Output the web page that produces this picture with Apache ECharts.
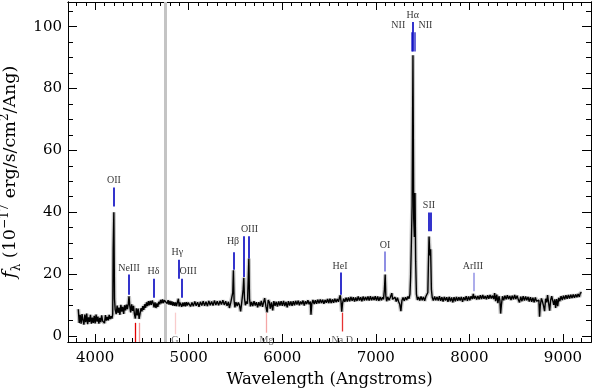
<!DOCTYPE html>
<html><head><meta charset="utf-8">
<script src="https://cdn.jsdelivr.net/npm/echarts@6/dist/echarts.min.js"></script>
<style>html,body{margin:0;padding:0;background:#fff}#c{width:594px;height:392px}</style>
</head><body><div id="c"></div>
<script>
// Spectrum segments: [wavelength (Angstrom), flux (1e-17 erg/s/cm2/Ang)]
const specBlue = [[3820,8.6],[3830,4.2],[3840,6.8],[3850,3.9],[3860,7.0],[3870,5.1],[3880,3.6],[3890,6.9],[3900,4.4],[3910,7.2],[3920,3.8],[3930,6.0],[3940,4.5],[3950,6.8],[3960,3.9],[3970,5.9],[3980,4.2],[3990,6.5],[4000,4.0],[4010,6.9],[4020,4.6],[4030,6.2],[4040,3.9],[4050,5.8],[4060,4.4],[4070,6.6],[4080,4.8],[4090,5.4],[4100,4.1],[4110,6.7],[4120,4.9],[4130,6.1],[4140,5.0],[4150,6.8],[4160,5.4],[4170,6.3],[4180,5.6],[4188,7],[4193,28],[4200,40],[4207,12],[4214,8.5],
[4225,7.0],[4235,9.8],[4245,7.4],[4255,9.1],[4265,6.8],[4275,10.0],[4285,7.8],[4295,9.4],[4305,7.1],[4315,9.9],[4325,8.2],[4335,10.1],[4345,8.6],[4355,10.4],[4362,12.8],[4370,9.8],[4380,7.6],[4390,10.2],[4400,8.1],[4410,9.7],[4420,7.0],[4430,5.6],[4440,8.9],[4450,6.6],[4460,8.8],[4470,5.5],[4480,7.2],[4490,8.9],[4500,7.9],[4510,9.6],[4520,8.4],[4530,10.2],[4540,9.1],[4550,10.8],[4560,9.6],[4570,11.2],[4580,9.9],[4590,11.3],[4600,10.0],[4610,11.4],[4620,10.6],[4630,9.2],[4640,10.8],[4650,9.0],[4660,10.5],[4670,9.4],[4680,11.0],[4690,10.2],[4700,11.6],[4710,10.5],[4720,11.8],[4730,10.6],[4740,11.5],[4750,10.9],[4760,11.9],[4770,10.4],[4780,11.5],[4790,10.1],[4800,11.3],[4810,10.0],[4820,11.1],[4830,9.8],[4840,10.9],[4850,9.7],[4860,10.8],[4870,9.6],[4880,10.9],[4890,12.0],[4898,9.5],[4906,10.8],[4915,11.4],[4925,9.4],[4935,10.7],[4945,9.6],[4955,10.8],[4965,9.5],[4975,10.9],[4985,9.8],[4995,10.7]];
const specGreen = [[5005,10.9],[5020,9.5],[5035,10.8],[5050,9.6],[5065,11.1],[5080,9.7],[5095,10.9],[5110,9.4],[5125,11.0],[5140,9.8],[5155,11.2],[5170,9.7],[5185,11.0],[5200,9.6],[5215,11.3],[5230,9.9],[5245,11.1],[5260,9.8],[5275,11.4],[5290,10.0],[5305,11.2],[5320,9.9],[5335,11.3],[5350,10.1],[5365,11.5],[5380,10.0],[5395,11.2],[5410,9.7],[5425,11.0],[5435,9.0],[5450,10.8],[5463,10.2],[5471,14],[5478,21.2],[5485,11.5],[5494,9.2],[5505,10.9],[5518,9.6],[5530,10.8],[5542,10.0],[5555,7.9],[5566,10.6],[5576,11.0],[5582,15],[5589,18.8],[5596,12.2],[5606,9.9],[5618,11.1],[5628,10.4],[5636,18],[5643,25.0],[5650,12.0],[5660,9.5],[5672,11.0],[5685,9.6],[5698,11.2],[5711,9.8],[5724,10.9],[5737,9.2],[5750,10.9],[5763,9.6],[5776,11.3],[5789,9.4],[5802,11.0],[5812,12.2],[5825,9.6],[5838,7.6],[5850,11.6],[5862,10.9],[5872,8.8],[5885,10.8],[5898,8.2],[5910,11.2],[5923,9.7],[5936,11.0],[5949,9.5],[5962,11.1],[5975,9.8],[5988,11.2],[6001,9.7],[6014,11.3],[6027,9.6],[6040,11.0],[6053,9.2],[6066,11.2],[6079,9.8],[6092,11.1],[6105,9.7],[6118,11.2],[6131,9.9],[6144,11.3],[6157,10.1],[6170,11.4],[6183,9.9],[6196,11.1],[6209,10.2],[6222,11.4],[6235,9.8],[6248,11.2],[6261,10.3],[6274,11.5],[6287,10.2],[6300,11.1],[6307,6.8],[6316,10.4],[6328,11.6],[6341,10.3],[6354,11.5],[6367,10.4],[6380,11.7],[6393,10.5],[6406,11.8],[6419,10.6],[6432,11.7],[6445,10.4],[6458,11.6],[6471,10.7],[6484,11.9],[6497,10.6],[6510,12.0],[6523,10.6],[6536,11.8],[6549,10.7],[6562,12.0],[6575,10.9],[6588,11.9],[6601,11.0],[6612,12.4],[6620,13.1],[6628,11.2],[6636,7.8],[6645,10.6],[6656,12.0],[6669,11.0],[6682,12.3],[6695,11.1],[6708,12.4],[6721,11.2],[6734,12.6],[6747,11.3],[6760,12.5],[6773,11.1],[6786,12.4],[6799,11.3],[6812,12.7],[6825,11.4],[6838,12.5],[6851,11.2],[6864,12.7],[6877,11.4],[6890,12.6],[6903,11.5],[6916,12.7],[6929,11.4],[6942,12.8],[6955,11.5],[6968,12.6],[6981,11.6],[6994,12.8]];
const specRed = [[7007,11.4],[7020,12.7],[7033,11.3],[7046,12.6],[7059,11.5],[7072,12.5],[7082,11.8],[7092,15],[7100,19.8],[7107,13.0],[7116,11.2],[7128,12.6],[7141,11.5],[7154,12.4],[7164,13.0],[7171,13.8],[7180,11.8],[7192,11.2],[7205,12.5],[7218,11.1],[7231,12.3],[7244,11.0],[7256,10.2],[7268,8.0],[7279,11.4],[7291,12.4],[7304,11.3],[7317,12.5],[7330,11.6],[7343,12.7],[7355,12.0],[7365,13.5],[7372,19],[7380,30],[7388,42],[7397,90.8],[7405,38],[7412,32],[7419,46.2],[7426,24],[7434,13.5],[7445,11.6],[7457,12.6],[7470,11.4],[7483,12.7],[7496,11.5],[7509,12.6],[7522,11.3],[7535,12.7],[7548,12.2],[7556,14],[7562,23],[7569,32.1],[7578,26],[7586,28],[7594,15],[7603,12.4],[7615,11.4],[7628,12.7],[7641,11.5],[7654,12.6],[7667,11.4],[7680,12.8],[7693,11.3],[7706,12.5],[7719,11.1],[7732,12.6],[7745,11.4],[7758,12.5],[7771,11.0],[7784,12.6],[7797,11.2],[7810,12.4],[7823,10.8],[7836,12.5],[7849,11.2],[7862,12.6],[7875,11.3],[7888,12.5],[7901,11.4],[7914,12.6],[7927,11.0],[7940,12.5],[7953,11.5],[7966,12.8],[7979,11.3],[7992,12.7]];
const specFar = [[8005,11.5],[8018,12.8],[8031,11.9],[8042,13.6],[8052,12.0],[8065,12.9],[8078,11.7],[8091,12.9],[8104,11.8],[8117,13.1],[8130,11.9],[8143,13.2],[8156,12.0],[8169,12.9],[8182,11.8],[8195,13.1],[8208,12.0],[8221,13.2],[8234,12.1],[8247,13.0],[8260,11.9],[8270,13.8],[8281,11.2],[8293,13.3],[8305,10.6],[8316,12.8],[8326,11.5],[8334,7.2],[8343,10.2],[8354,12.8],[8367,11.5],[8380,13.0],[8393,11.8],[8406,13.1],[8419,11.9],[8432,12.9],[8445,11.6],[8458,13.0],[8471,11.8],[8484,13.2],[8497,11.9],[8510,13.0],[8523,11.7],[8536,10.8],[8549,12.7],[8562,11.2],[8575,12.8],[8588,11.4],[8601,12.7],[8614,11.5],[8627,12.6],[8640,11.1],[8653,12.5],[8666,11.0],[8679,12.3],[8692,10.8],[8705,12.4],[8718,11.2],[8731,10.6],[8743,11.5],[8750,6.2],[8758,9.8],[8770,12.1],[8782,11.0],[8793,9.6],[8804,8.0],[8815,12.0],[8826,10.8],[8836,13.2],[8847,10.6],[8858,8.1],[8869,11.6],[8880,12.8],[8891,11.4],[8902,10.0],[8913,11.8],[8922,9.0],[8933,11.9],[8944,9.6],[8955,12.3],[8967,11.2],[8980,12.8],[8993,11.6],[9006,13.0],[9019,11.8],[9032,13.1],[9045,12.0],[9058,13.2],[9071,12.1],[9084,13.3],[9097,12.2],[9110,13.4],[9123,12.3],[9136,13.4],[9149,12.5],[9162,13.5],[9175,12.6],[9187,13.9],[9200,14.0]];

// Emission line markers: wavelength, marker bottom, marker top, strength (colour weight)
const emWave   = [4200, 4362, 4623, 4893, 4922, 5478, 5589, 5643, 6622, 7100, 7380, 7397, 7419, 7570, 7586, 8042];
const emLow    = [41.8, 13.3, 12.3, 18.5, 12.3, 21.4, 19.0, 25.0, 13.3, 20.8, 92.0, 92.0, 92.0, 33.8, 33.8, 14.4];
const emHigh   = [48.0, 19.8, 18.5, 24.6, 18.5, 27.0, 32.2, 32.2, 20.5, 27.3, 98.2, 101.5, 98.2, 39.9, 39.9, 20.4];
const emStrong = [1, 1, 1, 1, 1, 1, 1, 1, 1, 0.55, 0.75, 1, 0.75, 1, 1, 0.4];
// Emission labels
const emLabel  = ['OII', 'NeIII', 'Hδ', 'Hγ', 'OIII', 'Hβ', 'OIII', 'HeI', 'OI', 'NII', 'Hα', 'NII', 'SII', 'ArIII'];
const emLabelX = [4200, 4362, 4623, 4878, 4994, 5474, 5650, 6617, 7098, 7240, 7394, 7530, 7568, 8038];
const emLabelY = [50.2, 21.7, 20.7, 26.9, 20.7, 30.6, 34.4, 22.5, 29.2, 100.3, 103.7, 100.3, 42.1, 22.4];
// Absorption line markers
const abWave   = [4434, 4473, 4851, 5832, 6641];
const abLow    = [-2, -2, 0.5, 1.0, 1.4];
const abHigh   = [4.2, 4.2, 7.5, 7.5, 7.5];
const abStrong = [1, 0.4, 0.2, 0.35, 0.8];
const abLabel  = ['G', 'Mg', 'Na D'];
const abLabelX = [4851, 5832, 6641];
const abLabelY = [0.3, 0.3, 0.3];
// Masked region (grey band)
const maskWave = 4748;

const xMajor = [4000, 5000, 6000, 7000, 8000, 9000];
const xMinor = [];
for (let w = 3800; w <= 9200; w += 100) if (w % 1000 !== 0) xMinor.push(w);
const yMajor = [0, 20, 40, 60, 80, 100];
const yMinor = [];
for (let v = 5; v <= 105; v += 5) if (v % 20 !== 0) yMinor.push(v);

const spectrum = specBlue.concat(specGreen, specRed, specFar);
const XMIN = 3710, XMAX = 9300, YMIN = -2, YMAX = 108;
const serif = 'DejaVu Serif';

function mix(c1, c2, t) {
  const a = c1.match(/\w\w/g).map(h => parseInt(h, 16));
  const b = c2.match(/\w\w/g).map(h => parseInt(h, 16));
  return 'rgb(' + a.map((v, i) => Math.round(b[i] + (v - b[i]) * t)).join(',') + ')';
}

const markerLines = [];
emWave.forEach((w, i) => markerLines.push({coords: [[w, emLow[i]], [w, emHigh[i]]], lineStyle: {color: mix('0000c0', 'ffffff', emStrong[i]), width: 1.6, opacity: 1}}));
abWave.forEach((w, i) => markerLines.push({coords: [[w, abLow[i]], [w, abHigh[i]]], lineStyle: {color: mix('e00000', 'ffffff', abStrong[i]), width: 1.3, opacity: 1}}));
const maskLine = [{coords: [[maskWave, YMIN], [maskWave, YMAX]], lineStyle: {color: '#c4c4c4', width: 3, opacity: 1}}];

const labelData = emLabel.map((t, i) => ({name: t, value: [emLabelX[i], emLabelY[i]]}))
  .concat(abLabel.map((t, i) => ({name: t, value: [abLabelX[i], abLabelY[i]], label: {verticalAlign: 'top', color: '#444'}})));

function xAx(pos, ticks, len, labels) {
  return {type: 'value', position: pos, min: XMIN, max: XMAX,
    axisLine: {show: true, onZero: false, lineStyle: {color: '#000', width: 1}},
    splitLine: {show: false},
    axisTick: {show: true, inside: true, length: len, customValues: ticks, lineStyle: {color: '#000'}},
    axisLabel: labels ? {show: true, customValues: ticks, formatter: v => String(v), fontFamily: serif, fontSize: 15, color: '#000', margin: 9} : {show: false},
  };
}
function yAx(pos, ticks, len, labels) {
  return {type: 'value', position: pos, min: YMIN, max: YMAX,
    axisLine: {show: true, onZero: false, lineStyle: {color: '#000', width: 1}},
    splitLine: {show: false},
    axisTick: {show: true, inside: true, length: len, customValues: ticks, lineStyle: {color: '#000'}},
    axisLabel: labels ? {show: true, customValues: ticks, formatter: v => String(v), fontFamily: serif, fontSize: 15, color: '#000', margin: 6} : {show: false},
  };
}

const xAxes = [xAx('bottom', xMajor, 8, true), xAx('bottom', xMinor, 4, false), xAx('top', xMajor, 8, false), xAx('top', xMinor, 4, false)];
xAxes[0].name = 'Wavelength (Angstroms)';
xAxes[0].nameLocation = 'middle';
xAxes[0].nameGap = 29;
xAxes[0].nameTextStyle = {fontFamily: serif, fontSize: 16.5, color: '#000'};
const yAxes = [yAx('left', yMajor, 9, true), yAx('left', yMinor, 5, false), yAx('right', yMajor, 9, false), yAx('right', yMinor, 5, false)];
yAxes[0].name = '{f|f}{sub|λ} (10{sup|−17} erg/s/cm{sup|2}/Ang)';
yAxes[0].nameLocation = 'middle';
yAxes[0].nameRotate = 90;
yAxes[0].nameGap = 36;
yAxes[0].nameTextStyle = {fontFamily: serif, fontSize: 17.5, color: '#000', lineHeight: 24,
  rich: {
    f: {fontFamily: serif, fontStyle: 'italic', fontSize: 19, color: '#000'},
    sub: {fontFamily: serif, fontSize: 12, color: '#000', verticalAlign: 'bottom', padding: [6, 0, 0, 0]},
    sup: {fontFamily: serif, fontSize: 12, color: '#000', verticalAlign: 'top', padding: [0, 0, 7, 0]}
  }};

const chart = echarts.init(document.getElementById('c'), null, {renderer: 'canvas'});
chart.setOption({
  animation: false,
  backgroundColor: '#fff',
  grid: {left: 68, right: 3, top: 2, bottom: 50, containLabel: false, outerBoundsMode: 'none'},
  xAxis: xAxes,
  yAxis: yAxes,
  series: [
    {type: 'lines', coordinateSystem: 'cartesian2d', xAxisIndex: 0, yAxisIndex: 0, data: maskLine, z: 1, silent: true},
    {type: 'line', xAxisIndex: 0, yAxisIndex: 0, data: spectrum, showSymbol: false, symbol: 'none', lineStyle: {color: '#c8c8c8', width: 4}, z: 2, silent: true},
    {type: 'line', xAxisIndex: 0, yAxisIndex: 0, data: spectrum, showSymbol: false, symbol: 'none', lineStyle: {color: '#000', width: 1.4}, z: 3, silent: true},
    {type: 'lines', coordinateSystem: 'cartesian2d', xAxisIndex: 0, yAxisIndex: 0, data: markerLines, z: 4, silent: true},
    {type: 'scatter', xAxisIndex: 0, yAxisIndex: 0, data: labelData, symbolSize: 1, itemStyle: {color: 'rgba(0,0,0,0)'}, z: 5, silent: true, clip: false,
      label: {show: true, position: 'inside', formatter: '{b}', fontFamily: 'Liberation Serif', fontSize: 10, color: '#000'}}
  ]
});
</script></body></html>
